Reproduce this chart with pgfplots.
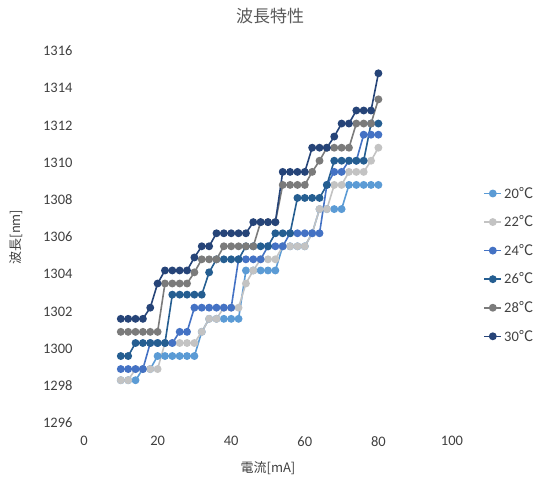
\documentclass[border=0pt]{standalone}
\usepackage{fontspec}
\setmainfont{Carlito}
\newfontfamily\cjk{Noto Sans CJK JP}
\usepackage{pgfplots}
\usepackage{pgfplotstable}
\pgfplotsset{compat=1.18}
\definecolor{c20}{HTML}{5B9BD5}
\definecolor{c22}{HTML}{C3C3C3}
\definecolor{c24}{HTML}{4472C4}
\definecolor{c26}{HTML}{255E91}
\definecolor{c28}{HTML}{7B7B7B}
\definecolor{c30}{HTML}{264478}
\definecolor{txtgray}{HTML}{595959}
\definecolor{tickgray}{HTML}{404040}
\pgfplotstableread{
x t20 t22 t24 t26 t28 t30
10 1298.3 1298.3 1298.9 1299.6 1300.9 1301.6
12 1298.3 1298.3 1298.9 1299.6 1300.9 1301.6
14 1298.3 1298.9 1298.9 1300.3 1300.9 1301.6
16 1298.9 1298.9 1298.9 1300.3 1300.9 1301.6
18 1298.9 1298.9 1300.3 1300.3 1300.9 1302.2
20 1299.6 1298.9 1300.3 1300.3 1300.9 1303.5
22 1299.6 1300.3 1300.3 1300.3 1303.5 1304.2
24 1299.6 1300.3 1300.3 1302.9 1303.5 1304.2
26 1299.6 1300.3 1300.9 1302.9 1303.5 1304.2
28 1299.6 1300.3 1300.9 1302.9 1303.5 1304.2
30 1299.6 1300.3 1302.2 1302.9 1304.1 1304.9
32 1300.9 1300.9 1302.2 1302.9 1304.8 1305.5
34 1301.6 1301.6 1302.2 1304.1 1304.8 1305.5
36 1301.6 1301.6 1302.2 1304.8 1304.8 1306.2
38 1301.6 1302.2 1302.2 1304.8 1305.5 1306.2
40 1301.6 1302.2 1302.2 1304.8 1305.5 1306.2
42 1301.6 1302.2 1304.8 1304.8 1305.5 1306.2
44 1304.2 1303.5 1304.8 1305.5 1305.5 1306.2
46 1304.2 1304.2 1304.8 1305.5 1305.5 1306.8
48 1304.2 1304.8 1304.8 1305.5 1306.8 1306.8
50 1304.2 1304.8 1305.5 1305.5 1306.8 1306.8
52 1304.2 1304.8 1305.5 1306.2 1306.8 1306.8
54 1305.5 1305.5 1305.5 1306.2 1308.8 1309.5
56 1305.5 1305.5 1306.2 1306.2 1308.8 1309.5
58 1305.5 1305.5 1306.2 1308.1 1308.8 1309.5
60 1305.5 1305.5 1306.2 1308.1 1308.8 1309.5
62 1306.2 1306.2 1306.2 1308.1 1309.5 1310.8
64 1307.5 1307.5 1306.2 1308.1 1310.1 1310.8
66 1307.5 1307.5 1308.8 1308.8 1310.8 1310.8
68 1307.5 1308.8 1309.5 1310.1 1310.8 1311.4
70 1307.5 1308.8 1309.5 1310.1 1310.8 1312.1
72 1308.8 1309.5 1310.1 1310.1 1310.8 1312.1
74 1308.8 1309.5 1310.1 1310.1 1312.1 1312.8
76 1308.8 1309.5 1311.5 1310.1 1312.1 1312.8
78 1308.8 1310.1 1311.5 1312.1 1312.1 1312.8
80 1308.8 1310.8 1311.5 1312.1 1313.4 1314.8
}\data
\pgfplotsset{ser/.style={color=#1, line width=1.6pt, mark=*, mark size=3.1pt, mark options={solid, fill=#1, draw=#1}}}
\begin{document}
\begin{tikzpicture}[x=1pt,y=1pt]
\path[use as bounding box] (0,0) rectangle (544,481);
\begin{axis}[
  at={(84pt,58pt)}, anchor=south west,
  scale only axis, width=368pt, height=372pt,
  xmin=0, xmax=100, ymin=1296, ymax=1316,
  xtick={0,20,...,100}, ytick={1296,1298,...,1316},
  axis line style={draw=none}, major tick length=0pt,
  /pgf/number format/assume math mode=true,
  /pgf/number format/1000 sep={},
  tick label style={font=\fontsize{14.5}{17}\selectfont, text=tickgray},
  yticklabel style={xshift=-8pt},
  xticklabel style={yshift=-10pt},
  clip=false,
  legend style={at={(1.085,0.425)}, anchor=west, draw=none, fill=none,
    font=\fontsize{14.5}{16}\selectfont, text=tickgray, row sep=12pt,
    inner sep=0pt},
  legend cell align=left,
]
\addplot[ser=c20] table[x=x,y=t20]{\data};
\addlegendentry{20{\cjk ℃}}
\addplot[ser=c22] table[x=x,y=t22]{\data};
\addlegendentry{22{\cjk ℃}}
\addplot[ser=c24] table[x=x,y=t24]{\data};
\addlegendentry{24{\cjk ℃}}
\addplot[ser=c26] table[x=x,y=t26]{\data};
\addlegendentry{26{\cjk ℃}}
\addplot[ser=c28] table[x=x,y=t28]{\data};
\addlegendentry{28{\cjk ℃}}
\addplot[ser=c30] table[x=x,y=t30]{\data};
\addlegendentry{30{\cjk ℃}}
\end{axis}
\node[font=\cjk\fontsize{17}{19}\selectfont, text=txtgray] at (270,465) {波長特性};
\node[font=\cjk\fontsize{13}{15}\selectfont, text=tickgray, rotate=90] at (16,244) {波長[nm]};
\node[font=\cjk\fontsize{13}{15}\selectfont, text=tickgray] at (268,13) {電流[mA]};
\end{tikzpicture}
\end{document}
